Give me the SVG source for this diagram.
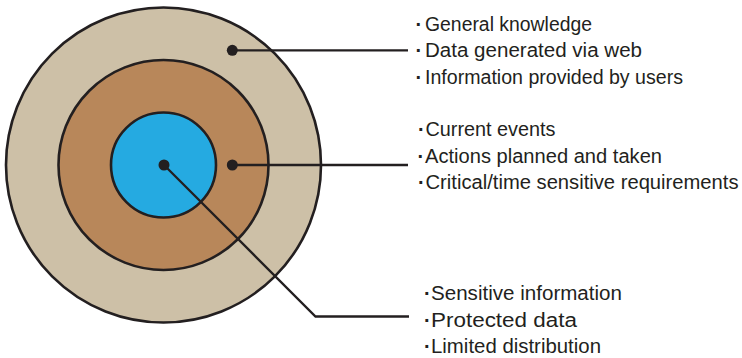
<svg xmlns="http://www.w3.org/2000/svg" width="742" height="358" viewBox="0 0 742 358">
<style>
.ring{stroke:#231f20;stroke-width:2.6}
.dot{fill:#231f20}
.conn{fill:none;stroke:#231f20;stroke-width:2.3}
text{font-family:"Liberation Sans",Arial,sans-serif;font-size:20px;fill:#231f20}
.b{font-weight:bold}
</style>
<rect width="742" height="358" fill="#ffffff"/>
<g id="outer-ring">
<circle class="ring" cx="163.5" cy="165" r="157.5" fill="#cdc0a7"/>
</g>
<g id="middle-ring">
<circle class="ring" cx="163.5" cy="165" r="105" fill="#b8875a"/>
</g>
<g id="inner-ring">
<circle class="ring" cx="163.5" cy="165" r="52.5" fill="#25aae1"/>
</g>
<g id="connectors">
<polyline class="conn" points="232.3,50.3 408,50.3"/>
<polyline class="conn" points="232.3,165 408,165"/>
<polyline class="conn" points="164,165 315.5,316.5 409,316.5"/>
<circle class="dot" cx="232.3" cy="50.3" r="5.5"/>
<circle class="dot" cx="232.3" cy="165" r="5.5"/>
<circle class="dot" cx="164" cy="165" r="5.5"/>
</g>
<g id="label-outer">
<text class="b" x="415.5" y="30.5">·</text>
<text x="425" y="30.5" textLength="167" lengthAdjust="spacingAndGlyphs">General knowledge</text>
<text class="b" x="415.5" y="57">·</text>
<text x="425" y="57" textLength="217" lengthAdjust="spacingAndGlyphs">Data generated via web</text>
<text class="b" x="415.5" y="83.5">·</text>
<text x="425" y="83.5" textLength="258" lengthAdjust="spacingAndGlyphs">Information provided by users</text>
</g>
<g id="label-middle">
<text class="b" x="418" y="136">·</text>
<text x="425.5" y="136" textLength="130" lengthAdjust="spacingAndGlyphs">Current events</text>
<text class="b" x="417.5" y="162.5">·</text>
<text x="425" y="162.5" textLength="237" lengthAdjust="spacingAndGlyphs">Actions planned and taken</text>
<text class="b" x="418" y="189">·</text>
<text x="425.5" y="189" textLength="313" lengthAdjust="spacingAndGlyphs">Critical/time sensitive requirements</text>
</g>
<g id="label-inner">
<text class="b" x="424" y="300">·</text>
<text x="431" y="300" textLength="191" lengthAdjust="spacingAndGlyphs">Sensitive information</text>
<text class="b" x="424" y="326.5">·</text>
<text x="431" y="326.5" textLength="146" lengthAdjust="spacingAndGlyphs">Protected data</text>
<text class="b" x="424" y="353">·</text>
<text x="431" y="353" textLength="170" lengthAdjust="spacingAndGlyphs">Limited distribution</text>
</g>
</svg>
